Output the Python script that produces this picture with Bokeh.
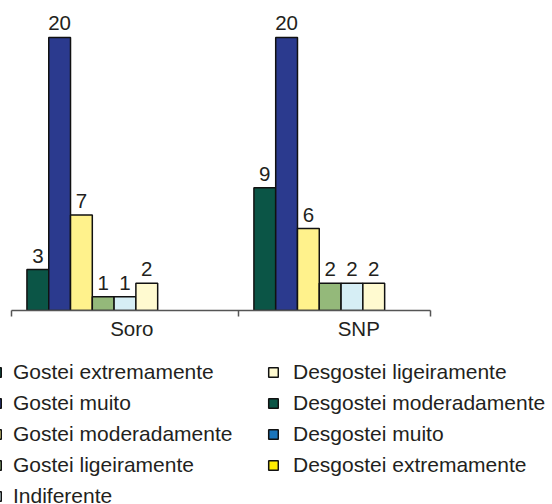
from bokeh.plotting import figure
from bokeh.models import (Range1d, ColumnDataSource, LinearAxis, FixedTicker,
                          Legend, LegendItem)
from bokeh.layouts import column
from bokeh.core.properties import value
from bokeh.embed import file_html
from bokeh.resources import INLINE

# ---- data ----
groups = ["Soro", "SNP"]
series = ["Gostei extremamente", "Gostei muito", "Gostei moderadamente",
          "Gostei ligeiramente", "Indiferente", "Desgostei ligeiramente",
          "Desgostei moderadamente", "Desgostei muito", "Desgostei extremamente"]
soro = [3, 20, 7, 1, 1, 2, 0, 0, 0]
snp = [9, 20, 6, 2, 2, 2, 0, 0, 0]
colors = ["#0b5546", "#2b3a8e", "#fff28c", "#94b97a", "#d6eef5",
          "#fffad0", "#0b5546", "#1b75bb", "#ffed00"]

FONT = "Liberation Sans"
TXT = "#231f20"
FS = "20.5px"
LFS = "21px"

p = figure(width=552, height=345, output_backend="svg", toolbar_location=None,
           x_range=Range1d(0, 1.846), y_range=Range1d(0, 22.71),
           x_axis_type=None, y_axis_type=None,
           min_border_left=11, min_border_right=122, min_border_top=0,
           min_border_bottom=35)
p.frame_align = False
p.outline_line_color = None
p.grid.visible = False
p.background_fill_color = None
p.border_fill_color = "white"

n = len(series)
slot = 0.096
cluster = slot * n
values = [soro, snp]
for j, name in enumerate(series):
    xs, tops = [], []
    for gi, g in enumerate(groups):
        v = values[gi][j]
        if v > 0:
            xs.append(gi + 0.5 - cluster / 2 + slot * (j + 0.5))
            tops.append(v)
    src = ColumnDataSource(dict(x=xs, top=tops, lab=[str(t) for t in tops]))
    p.vbar(x="x", top="top", bottom=0, width=slot, source=src,
           fill_color=colors[j], line_color="#111111", line_width=1.5)
    p.text(x="x", y="top", text="lab", source=src, text_align="center",
           text_baseline="alphabetic", y_offset=-14, text_font=value(FONT),
           text_font_size=FS, text_color=TXT)

# x axis: labels at group positions, separators as minor ticks
label_shift = 0.03
label_pos = [gi + 0.5 + label_shift for gi in range(len(groups))]
bounds = [0, 1, 1.846]
ax = LinearAxis(ticker=FixedTicker(ticks=label_pos, minor_ticks=bounds),
                major_label_overrides={pos: g for pos, g in zip(label_pos, groups)})
ax.axis_line_color = "#555555"
ax.axis_line_width = 1.5
ax.major_tick_line_color = None
ax.major_tick_out = 0
ax.major_tick_in = 0
ax.minor_tick_line_color = "#555555"
ax.minor_tick_line_width = 1.5
ax.minor_tick_out = 6
ax.minor_tick_in = 0
ax.major_label_standoff = 0
ax.major_label_text_font = FONT
ax.major_label_text_font_size = FS
ax.major_label_text_color = TXT
p.add_layout(ax, "below")

# ---- legend panel ----
q = figure(width=552, height=159, output_backend="svg", toolbar_location=None,
           x_range=Range1d(0, 1), y_range=Range1d(0, 1),
           x_axis_type=None, y_axis_type=None,
           min_border_left=0, min_border_right=0, min_border_top=0,
           min_border_bottom=0)
q.frame_align = False
q.outline_line_color = None
q.grid.visible = False
q.background_fill_color = None
q.border_fill_color = "white"

nan = float("nan")
leg_r = [q.vbar(x=[nan], top=[nan], bottom=0, width=0.1, fill_color=c,
                line_color="#111111", line_width=1.5) for c in colors]


def make_legend(idx, loc, standoff):
    lg = Legend(items=[LegendItem(label=series[i], renderers=[leg_r[i]]) for i in idx],
                location=loc, orientation="vertical")
    lg.border_line_color = None
    lg.background_fill_alpha = 0
    lg.padding = 0
    lg.margin = 0
    lg.spacing = 0
    lg.glyph_width = 12
    lg.glyph_height = 12
    lg.label_height = 31
    lg.label_standoff = standoff
    lg.label_text_font = FONT
    lg.label_text_font_size = LFS
    lg.label_text_color = TXT
    lg.label_text_baseline = "middle"
    return lg


q.add_layout(make_legend(range(0, 5), (-10, -7.5), 11), "center")
q.add_layout(make_legend(range(5, 9), (267, 23.5), 14), "center")

open("out.html", "w").write(file_html(column(p, q, spacing=0), INLINE))
